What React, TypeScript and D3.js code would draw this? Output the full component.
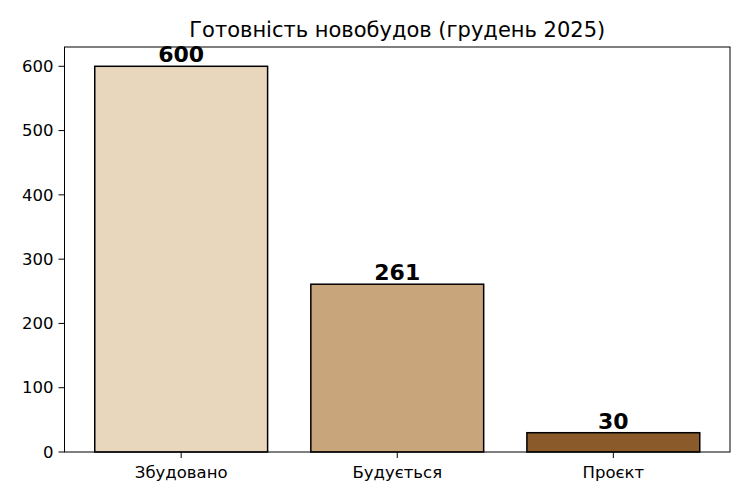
import React from "react";
import * as d3 from "d3";

const categories = ["Збудовано", "Будується", "Проєкт"];
const values = [600, 261, 30];
const colors = ["#e8d6bd", "#c8a57a", "#8b5a2b"];
const yTicks = [0, 100, 200, 300, 400, 500, 600];

const W = 750;
const H = 500;
const margin = { top: 47, right: 20, bottom: 48, left: 64.5 };
const font = "DejaVu Sans, sans-serif";

export default function App() {
  const innerW = W - margin.left - margin.right;
  const innerH = H - margin.top - margin.bottom;

  // matplotlib-like limits: bars of width 0.8 with 5% margins
  const x = d3.scaleLinear().domain([-0.54, categories.length - 1 + 0.54]).range([0, innerW]);
  const y = d3.scaleLinear().domain([0, 630]).range([innerH, 0]);
  const barW = x(0.8) - x(0);

  return (
    <svg width={W} height={H} style={{ position: "absolute", left: 0, top: 0, background: "#fff" }}>
      <text x={margin.left + innerW / 2} y={37} textAnchor="middle" fontFamily={font} fontSize={21}>
        Готовність новобудов (грудень 2025)
      </text>
      <g transform={`translate(${margin.left},${margin.top})`}>
        {values.map((v, i) => (
          <g key={categories[i]}>
            <rect
              x={x(i) - barW / 2}
              y={y(v)}
              width={barW}
              height={innerH - y(v)}
              fill={colors[i]}
              stroke="#000"
              strokeWidth={1.5}
            />
            <text x={x(i)} y={y(v) - 4} textAnchor="middle" fontFamily={font} fontSize={22} fontWeight="bold">
              {v}
            </text>
          </g>
        ))}
        {yTicks.map((t) => (
          <g key={t} transform={`translate(0,${y(t)})`}>
            <line x1={-6} x2={0} stroke="#000" strokeWidth={1} />
            <text x={-11} dy="0.35em" textAnchor="end" fontFamily={font} fontSize={16.5}>
              {t}
            </text>
          </g>
        ))}
        {categories.map((c, i) => (
          <g key={c} transform={`translate(${x(i)},${innerH})`}>
            <line y1={0} y2={6} stroke="#000" strokeWidth={1} />
            <text y={26} textAnchor="middle" fontFamily={font} fontSize={16.5}>
              {c}
            </text>
          </g>
        ))}
        <rect x={0} y={0} width={innerW} height={innerH} fill="none" stroke="#000" strokeWidth={1} />
      </g>
    </svg>
  );
}
